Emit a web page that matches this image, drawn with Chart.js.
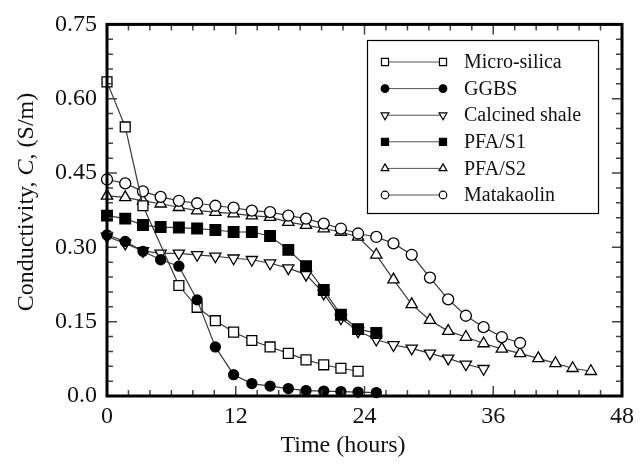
<!DOCTYPE html>
<html><head><meta charset="utf-8">
<script src="https://cdn.jsdelivr.net/npm/chart.js@4/dist/chart.umd.min.js"></script>
<style>html,body{margin:0;padding:0;background:#fff}</style>
</head><body>
<canvas id="c" width="640" height="466"></canvas>
<script>
// ---- data ----
const timeHours = [0, 1.7, 3.35, 5.0, 6.7, 8.4, 10.1, 11.8, 13.5, 15.2, 16.9, 18.55, 20.2, 21.8, 23.4, 25.1, 26.7, 28.4, 30.1, 31.8, 33.45, 35.1, 36.8, 38.5, 40.2, 41.8, 43.4, 45.1];
const seriesNames = ['Micro-silica', 'GGBS', 'Calcined shale', 'PFA/S1', 'PFA/S2', 'Matakaolin'];
const microSilica = [0.634, 0.543, 0.384, null, 0.223, 0.179, 0.152, 0.129, 0.112, 0.099, 0.086, 0.073, 0.063, 0.056, 0.050];
const ggbs = [0.325, 0.312, 0.292, 0.275, 0.262, 0.194, 0.099, 0.043, 0.025, 0.020, 0.015, 0.011, 0.010, 0.009, 0.008, 0.007];
const calcinedShale = [0.322, 0.308, 0.293, 0.288, 0.288, 0.285, 0.282, 0.278, 0.275, 0.268, 0.258, 0.245, 0.207, 0.157, 0.131, 0.114, 0.103, 0.096, 0.086, 0.076, 0.064, 0.055];
const pfaS1 = [0.364, 0.358, 0.345, 0.341, 0.340, 0.338, 0.335, 0.331, 0.331, 0.323, 0.295, 0.262, 0.214, 0.164, 0.135, 0.127];
const pfaS2 = [0.404, 0.401, 0.394, 0.388, 0.381, 0.374, 0.371, 0.368, 0.364, 0.361, 0.351, 0.345, 0.338, 0.331, 0.321, 0.285, 0.235, 0.185, 0.153, 0.131, 0.119, 0.106, 0.095, 0.086, 0.076, 0.066, 0.056, 0.050];
const matakaolin = [0.437, 0.429, 0.413, 0.402, 0.394, 0.389, 0.384, 0.380, 0.374, 0.371, 0.364, 0.358, 0.348, 0.338, 0.328, 0.321, 0.308, 0.285, 0.239, 0.195, 0.162, 0.139, 0.119, 0.107];
const xTickLabels = ['0', '12', '24', '36', '48'];
const yTickLabels = ['0.0', '0.15', '0.30', '0.45', '0.60', '0.75'];
const xTitle = 'Time (hours)';
const yTitleParts = ['Conductivity, ', 'C', ', (S/m)'];

// ---- styling ----
const FONT = '"Liberation Serif", "Times New Roman", serif';
const INK = '#111';
const LINE = '#3a3a3a';
const seriesValues = [microSilica, ggbs, calcinedShale, pfaS1, pfaS2, matakaolin];
const markerStyles = [
  {pointStyle: 'rect', rotation: 0, radius: 7, fill: '#fff'},
  {pointStyle: 'circle', rotation: 0, radius: 5, fill: '#000'},
  {pointStyle: 'triangle', rotation: 180, radius: 6.5, fill: '#fff'},
  {pointStyle: 'rect', rotation: 0, radius: 7.5, fill: '#000'},
  {pointStyle: 'triangle', rotation: 0, radius: 6.5, fill: '#fff'},
  {pointStyle: 'circle', rotation: 0, radius: 5.5, fill: '#fff'}
];
const drawOrder = [2, 1, 3, 0, 5, 4];

function toPoints(vals) {
  const pts = [];
  vals.forEach((v, i) => { if (v !== null) pts.push({x: timeHours[i], y: v}); });
  return pts;
}

const datasets = seriesNames.map((name, i) => ({
  label: name,
  data: toPoints(seriesValues[i]),
  order: drawOrder[i],
  borderColor: LINE,
  borderWidth: 1.2,
  backgroundColor: markerStyles[i].fill,
  pointStyle: markerStyles[i].pointStyle,
  rotation: markerStyles[i].rotation,
  pointRadius: markerStyles[i].radius,
  pointBorderColor: '#000',
  pointBorderWidth: 1.3,
  pointBackgroundColor: markerStyles[i].fill,
  tension: 0,
  clip: false
}));

function drawMarker(ctx, style, x, y, r, fill) {
  ctx.save();
  ctx.fillStyle = fill;
  ctx.strokeStyle = '#000';
  ctx.lineWidth = 1.2;
  ctx.beginPath();
  if (style.pointStyle === 'rect') {
    const s = Math.SQRT1_2 * r;
    ctx.rect(x - s, y - s, 2 * s, 2 * s);
  } else if (style.pointStyle === 'circle') {
    ctx.arc(x, y, r, 0, Math.PI * 2);
  } else {
    const rot = style.rotation * Math.PI / 180;
    for (let k = 0; k < 3; k++) {
      const a = rot - Math.PI / 2 + k * 2 * Math.PI / 3;
      const px = x + Math.cos(a) * r, py = y + Math.sin(a) * r;
      if (k === 0) ctx.moveTo(px, py); else ctx.lineTo(px, py);
    }
    ctx.closePath();
  }
  ctx.fill();
  ctx.stroke();
  ctx.restore();
}

const framePlugin = {
  id: 'frame',
  afterDatasetsDraw(chart) {
    const {ctx, chartArea: a, scales: {x, y}} = chart;
    ctx.save();
    ctx.strokeStyle = '#444';
    ctx.lineWidth = 1.5;
    ctx.beginPath();
    for (let i = 0; i <= 24; i++) {
      const px = x.getPixelForValue(i * 2);
      const len = (i % 6 === 0) ? 10 : 6;
      ctx.moveTo(px, a.bottom); ctx.lineTo(px, a.bottom - len);
      ctx.moveTo(px, a.top); ctx.lineTo(px, a.top + len);
    }
    for (let i = 0; i <= 25; i++) {
      const py = y.getPixelForValue(i * 0.03);
      const len = (i % 5 === 0) ? 10 : 6;
      ctx.moveTo(a.left, py); ctx.lineTo(a.left + len, py);
      ctx.moveTo(a.right, py); ctx.lineTo(a.right - len, py);
    }
    ctx.stroke();
    ctx.strokeStyle = '#000';
    ctx.lineWidth = 3;
    ctx.strokeRect(a.left, a.top, a.right - a.left, a.bottom - a.top);

    // axis titles
    ctx.fillStyle = INK;
    ctx.textBaseline = 'middle';
    ctx.textAlign = 'center';
    ctx.font = '24px ' + FONT;
    ctx.fillText(xTitle, 343, 446);

    ctx.save();
    ctx.translate(27, 202);
    ctx.rotate(-Math.PI / 2);
    const fonts = ['24px ' + FONT, 'italic 24px ' + FONT, '24px ' + FONT];
    let total = 0;
    const widths = yTitleParts.map((t, k) => { ctx.font = fonts[k]; const w = ctx.measureText(t).width; total += w; return w; });
    let cx = -total / 2;
    ctx.textAlign = 'left';
    yTitleParts.forEach((t, k) => { ctx.font = fonts[k]; ctx.fillText(t, cx, 0); cx += widths[k]; });
    ctx.restore();

    // legend
    const lx = 367, ly = 40, lw = 231, lh = 173;
    ctx.fillStyle = '#fff';
    ctx.fillRect(lx, ly, lw, lh);
    ctx.strokeStyle = '#000';
    ctx.lineWidth = 1.2;
    ctx.strokeRect(lx + 0.5, ly + 0.5, lw, lh);
    ctx.font = '20px ' + FONT;
    ctx.textAlign = 'left';
    ctx.textBaseline = 'middle';
    chart.data.datasets.forEach((ds, i) => {
      const cy = 62 + i * 26.6;
      ctx.strokeStyle = '#555';
      ctx.lineWidth = 1;
      ctx.beginPath();
      ctx.moveTo(385, cy); ctx.lineTo(443, cy);
      ctx.stroke();
      const st = markerStyles[i];
      const r = st.pointStyle === 'rect' ? 5 : (st.pointStyle === 'triangle' ? 4.5 : 3.8);
      drawMarker(ctx, st, 385, cy, r, st.fill);
      drawMarker(ctx, st, 443, cy, r, st.fill);
      ctx.fillStyle = INK;
      ctx.fillText(ds.label, 464, cy + 1);
    });
    ctx.restore();
  }
};

new Chart(document.getElementById('c'), {
  type: 'line',
  data: {datasets},
  plugins: [framePlugin],
  options: {
    responsive: false,
    animation: false,
    devicePixelRatio: 1,
    layout: {padding: {top: 17, right: 11, left: 0, bottom: 0}},
    plugins: {legend: {display: false}, tooltip: {enabled: false}},
    scales: {
      x: {
        type: 'linear', min: 0, max: 48,
        grid: {display: false, drawTicks: false},
        border: {display: false},
        afterFit: s => { s.height = 70; },
        ticks: {
          stepSize: 12, padding: 6, color: INK, maxRotation: 0,
          font: {family: FONT, size: 24},
          callback: (v, i) => xTickLabels[i]
        }
      },
      y: {
        type: 'linear', min: 0, max: 0.75,
        grid: {display: false, drawTicks: false},
        border: {display: false},
        afterFit: s => { s.width = 107; },
        ticks: {
          stepSize: 0.15, padding: 10, color: INK,
          font: {family: FONT, size: 24},
          callback: (v, i) => yTickLabels[i]
        }
      }
    }
  }
});
</script>
</body></html>
